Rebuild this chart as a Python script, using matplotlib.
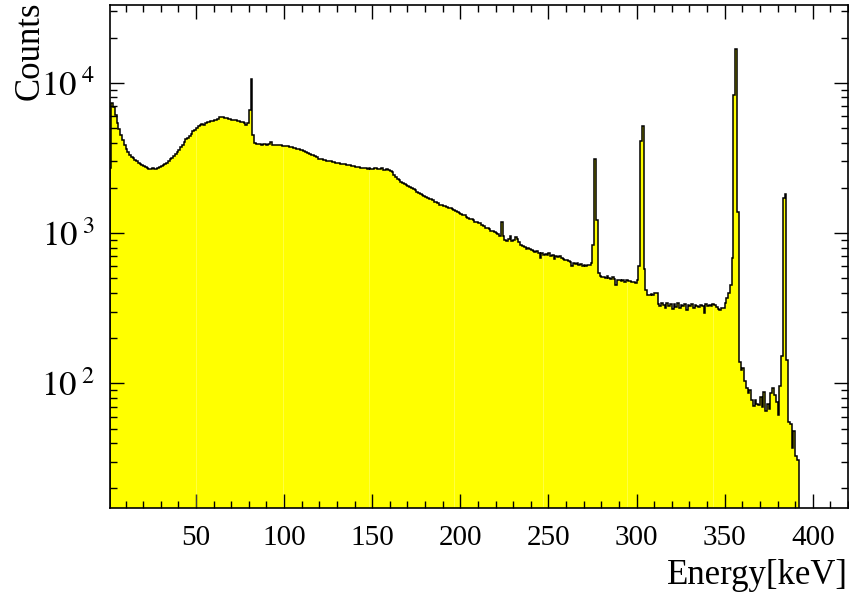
import numpy as np
import matplotlib
matplotlib.use("Agg")
import matplotlib.pyplot as plt
from matplotlib.ticker import MultipleLocator, LogLocator, FuncFormatter, NullFormatter

plt.rcParams['font.family'] = ['Liberation Serif', 'DejaVu Serif']
plt.rcParams['mathtext.fontset'] = 'stix'

# histogram: 1 keV bins starting at 1 keV
e_start = 1.0
bin_width = 1.0
counts = [
    2700, 7400, 6900, 6100, 5400, 4900, 4500, 4150, 3850, 3650,   # 1-10
    3450, 3320, 3200, 3140, 3060, 3010, 2950, 2900, 2850, 2790,   # 11-20
    2740, 2700, 2690, 2660, 2700, 2670, 2690, 2720, 2750, 2790,   # 21-30
    2840, 2900, 2950, 3020, 3100, 3180, 3270, 3350, 3460, 3600,   # 31-40
    3760, 3880, 4050, 4200, 4330, 4460, 4600, 4750, 4870, 5000,   # 41-50
    5130, 5250, 5320, 5280, 5420, 5480, 5450, 5560, 5610, 5650,   # 51-60
    5700, 5760, 5900, 5950, 5920, 5860, 5800, 5780, 5720, 5700,   # 61-70
    5660, 5640, 5600, 5560, 5500, 5460, 5400, 5240, 5380, 6600,   # 71-80
    10600, 4500, 3960, 3930, 3910, 3900, 3880, 3910, 3890, 3870,  # 81-90
    3900, 4020, 3880, 3860, 3850, 3870, 3840, 3860, 3830, 3810,   # 91-100
    3800, 3780, 3760, 3720, 3700, 3670, 3640, 3610, 3590, 3550,   # 101-110
    3520, 3480, 3420, 3360, 3330, 3300, 3240, 3190, 3130, 3110,   # 111-120
    3100, 3070, 3050, 3030, 3000, 3010, 2980, 2960, 2940, 2930,   # 121-130
    2940, 2900, 2880, 2870, 2850, 2860, 2840, 2810, 2790, 2770,   # 131-140
    2750, 2760, 2730, 2720, 2700, 2710, 2690, 2700, 2690, 2680,   # 141-150
    2700, 2720, 2680, 2660, 2700, 2650, 2640, 2660, 2630, 2610,   # 151-160
    2560, 2450, 2380, 2290, 2250, 2200, 2150, 2120, 2080, 2060,   # 161-170
    2030, 2000, 1960, 1930, 1880, 1850, 1820, 1800, 1760, 1740,   # 171-180
    1720, 1700, 1690, 1660, 1620, 1600, 1580, 1550, 1540, 1510,   # 181-190
    1520, 1490, 1470, 1480, 1450, 1420, 1400, 1380, 1370, 1350,   # 191-200
    1330, 1320, 1290, 1270, 1250, 1240, 1220, 1190, 1180, 1170,   # 201-210
    1160, 1130, 1110, 1090, 1080, 1060, 1040, 1030, 1010, 1000,   # 211-220
    980, 960, 1180, 950, 900, 890, 920, 950, 880, 900,            # 221-230
    945, 920, 870, 835, 820, 810, 790, 800, 780, 770,             # 231-240
    760, 750, 755, 740, 680, 735, 720, 725, 715, 735,             # 241-250
    700, 720, 675, 700, 690, 700, 680, 670, 663, 660,             # 251-260
    650, 640, 600, 630, 624, 630, 615, 620, 605, 610,             # 261-270
    600, 610, 610, 630, 835, 3110, 1230, 541, 515, 512,           # 271-280
    510, 505, 520, 500, 498, 510, 495, 452, 490, 485,             # 281-290
    480, 490, 470, 485, 478, 480, 470, 475, 468, 485,             # 291-300
    600, 4080, 5140, 575, 419, 390, 385, 392, 388, 402,           # 301-310
    400, 340, 325, 345, 330, 318, 342, 328, 335, 312,             # 311-320
    338, 322, 344, 316, 330, 326, 340, 310, 332, 328,             # 321-330
    336, 318, 330, 325, 322, 330, 325, 296, 335, 328,             # 331-340
    332, 325, 338, 330, 320, 312, 308, 315, 318, 344,             # 341-350
    369, 402, 450, 678, 8320, 16900, 1390, 139, 123, 126,         # 351-360
    103, 93, 86, 90, 78, 71, 77, 73, 72, 81,                      # 361-370
    70, 87, 65, 73, 67, 86, 93, 84, 75, 62,                       # 371-380
    96, 151, 1710, 1820, 143, 55, 54, 37, 48, 33,                 # 381-390
    31,                                                           # 391
]

# faint light seams visible inside the filled area
seam_energies = [50, 99.5, 148, 196.5, 247, 294.5, 343.5]

x_ticks = [50, 100, 150, 200, 250, 300, 350, 400]

counts = np.array(counts, dtype=float)
edges = e_start + bin_width * np.arange(len(counts) + 1)

fig = plt.figure(figsize=(8.49, 5.92), dpi=100)
ax = fig.add_axes([110/849, 1 - 508/592, 738/849, 503/592])

ax.stairs(counts, edges, fill=True, color='#ffff00', baseline=1)
ax.stairs(counts, edges, color='black', lw=1.1, baseline=1)

# seams
idx = np.searchsorted(edges, seam_energies) - 1
ax.vlines(seam_energies, 1, counts[idx] * 0.97, colors='white', lw=0.6, alpha=0.3)

ax.set_yscale('log')
ax.set_xlim(1.2, 420)
ax.set_ylim(14.8, 33000)

ax.xaxis.set_major_locator(MultipleLocator(50))
ax.xaxis.set_minor_locator(MultipleLocator(10))
ax.set_xticks(x_ticks)
ax.set_xticklabels([str(t) for t in x_ticks])

ax.yaxis.set_major_locator(LogLocator(base=10, numticks=10))
ax.yaxis.set_minor_locator(LogLocator(base=10, subs=np.arange(2, 10), numticks=20))
ax.yaxis.set_major_formatter(FuncFormatter(lambda v, p: r'$10^{\;%d}$' % round(np.log10(v))))
ax.yaxis.set_minor_formatter(NullFormatter())

ax.tick_params(which='both', direction='in', top=True, right=True, width=1.0)
ax.tick_params(which='major', length=10)
ax.tick_params(which='minor', length=5)
ax.tick_params(axis='x', which='major', labelsize=21, pad=12)
ax.tick_params(axis='y', which='major', labelsize=25, pad=11)
for s in ax.spines.values():
    s.set_linewidth(1.2)

fig.text(848/849, 1 - 575/592, 'Energy[keV]', ha='right', va='center', fontsize=25)
fig.text(30/849, 1 - 2/592, 'Counts', ha='center', va='top', rotation=90, fontsize=25)

fig.savefig('out.png', dpi=100)
